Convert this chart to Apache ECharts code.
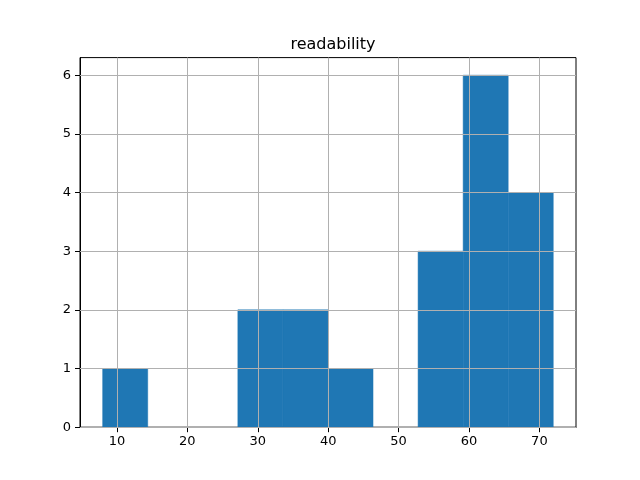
<!DOCTYPE html>
<html>
<head>
<meta charset="utf-8">
<script src="https://cdn.jsdelivr.net/npm/echarts@6/dist/echarts.min.js"></script>
<style>html,body{margin:0;padding:0;background:#fff;}#c{width:640px;height:480px;}</style>
</head>
<body>
<div id="c"></div>
<script>
var binEdges = [7.97, 14.37, 20.77, 27.17, 33.57, 39.97, 46.37, 52.77, 59.17, 65.57, 71.97];
var counts = [1, 0, 0, 2, 2, 1, 0, 3, 6, 4];
var xTicks = [10, 20, 30, 40, 50, 60, 70];
var yTicks = [0, 1, 2, 3, 4, 5, 6];
var title = 'readability';

var bins = counts.map(function (c, i) { return [binEdges[i], binEdges[i + 1], c]; });
var font = 'DejaVu Sans';
var gridData = xTicks.map(function (v) { return { xAxis: v }; })
  .concat(yTicks.map(function (v) { return { yAxis: v }; }));

var chart = echarts.init(document.getElementById('c'), null, { renderer: 'canvas' });
chart.setOption({
  animation: false,
  backgroundColor: '#fff',
  title: {
    text: title, left: 328, top: 32, textAlign: 'center',
    textStyle: { fontFamily: font, fontSize: 16, fontWeight: 'normal', color: '#000' }
  },
  grid: { left: 80, right: 64, top: 57.6, bottom: 52.8, show: true, borderColor: '#000', borderWidth: 1, backgroundColor: 'transparent' },
  xAxis: {
    type: 'value', min: 4.75, max: 75.2,
    axisLine: { show: true, lineStyle: { color: '#000', width: 1 } },
    axisTick: { show: true, customValues: xTicks, length: 5, lineStyle: { color: '#000' } },
    axisLabel: { customValues: xTicks, margin: 8, fontFamily: font, fontSize: 13, color: '#000' },
    splitLine: { show: false }
  },
  yAxis: {
    type: 'value', min: 0, max: 6.3,
    axisLine: { show: true, lineStyle: { color: '#000', width: 1 } },
    axisTick: { show: true, customValues: yTicks, length: 5, lineStyle: { color: '#000' } },
    axisLabel: { customValues: yTicks, margin: 9, fontFamily: font, fontSize: 13, color: '#000' },
    splitLine: { show: false }
  },
  series: [{
    type: 'custom',
    data: bins,
    renderItem: function (params, api) {
      if (api.value(2) <= 0) { return null; }
      var p0 = api.coord([api.value(0), api.value(2)]);
      var p1 = api.coord([api.value(1), 0]);
      return {
        type: 'rect',
        shape: { x: p0[0], y: p0[1], width: p1[0] - p0[0], height: p1[1] - p0[1] },
        style: { fill: '#1f77b4', stroke: '#1f77b4', lineWidth: 0.5 }
      };
    },
    markLine: {
      silent: true, symbol: 'none', z: 10,
      label: { show: false },
      lineStyle: { color: '#b0b0b0', width: 1, type: 'solid' },
      emphasis: { disabled: true },
      data: gridData
    }
  }]
});
</script>
</body>
</html>
